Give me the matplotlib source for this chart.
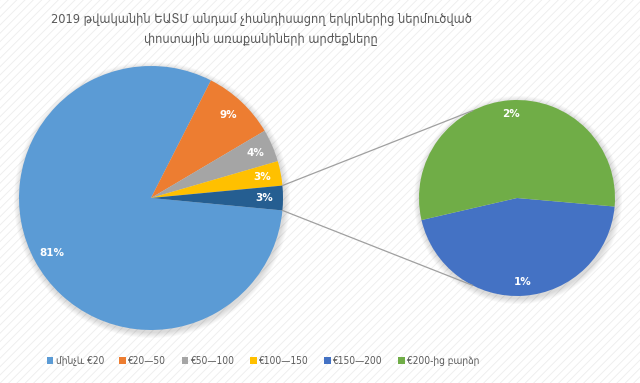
import matplotlib
matplotlib.use("Agg")
import numpy as np
import matplotlib.pyplot as plt
from matplotlib.patches import Rectangle, Circle

# data
categories = ["մինչև €20", "€20—50", "€50—100", "€100—150", "€150—200", "€200-ից բարձր"]
main_values = [81, 9, 4, 3]          # first four categories (percent)
other_values = [1.35, 1.65]          # €150—200, €200-ից բարձր (split into the small pie)
title = "2019 թվականին ԵԱՏՄ անդամ չհանդիսացող երկրներից ներմուծված\nփոստային առաքանիների արժեքները"

main_colors = ["#5B9BD5", "#ED7D31", "#A5A5A5", "#FFC000"]
other_color = "#255E91"
sec_colors = ["#4472C4", "#70AD47"]

plt.rcParams["font.family"] = ["DejaVu Sans"]
plt.rcParams["hatch.linewidth"] = 0.6

W, H = 640, 383
fig = plt.figure(figsize=(W / 100, H / 100), dpi=100)
fig.patch.set_facecolor("white")

# faint diagonal stripes in the background
fig.patches.append(Rectangle((0, 0), 1, 1, transform=fig.transFigure, facecolor="white",
                             edgecolor="#EDEDED", hatch="////", lw=0, zorder=-10))

ax = fig.add_axes([0, 0, 1, 1])

main_c, main_r = (151, 185), 132
sec_c, sec_r = (517, 185), 98

# soft shadows
for c, r in [(main_c, main_r), (sec_c, sec_r)]:
    for k in range(1, 7):
        ax.add_patch(Circle((c[0] + 1, c[1] - 2), r + k, color="#000000", alpha=0.025, lw=0, zorder=0))

fmt_label = lambda v: f"{v:.0f}%"
text_kw = dict(color="white", fontsize=7.5, fontweight="bold")

other_total = sum(other_values)
main_all = main_values + [other_total]
other_angle = other_total / sum(main_all) * 360
wedges_main, texts_main, auto_main = ax.pie(
    main_all, colors=main_colors + [other_color], center=main_c, radius=main_r,
    startangle=-other_angle / 2, counterclock=False,
    autopct=lambda p: fmt_label(p * sum(main_all) / 100), pctdistance=0.86,
    textprops=text_kw, wedgeprops=dict(lw=0), frame=True)

wedges_sec, texts_sec, auto_sec = ax.pie(
    other_values, colors=sec_colors, center=sec_c, radius=sec_r,
    startangle=-5, counterclock=False,
    autopct=lambda p: fmt_label(p * other_total / 100), pctdistance=0.86,
    textprops=text_kw, wedgeprops=dict(lw=0), frame=True)

ax.set_xlim(0, W)
ax.set_ylim(0, H)
ax.set_aspect("equal")
ax.axis("off")

# connector lines from the "other" slice to the small pie
ow = wedges_main[-1]
for th_main, th_sec in [(ow.theta2, 117), (ow.theta1, -117)]:
    x0 = main_c[0] + main_r * np.cos(np.radians(th_main))
    y0 = main_c[1] + main_r * np.sin(np.radians(th_main))
    x1 = sec_c[0] + sec_r * np.cos(np.radians(th_sec))
    y1 = sec_c[1] + sec_r * np.sin(np.radians(th_sec))
    ax.plot([x0, x1], [y0, y1], color="#A0A0A0", lw=0.9, zorder=1)

fig.text(261 / W, 1 - 29 / H, title, ha="center", va="center", fontsize=9.2,
         fontstretch="condensed", color="#595959", linespacing=1.7)

handles = list(wedges_main[:4]) + list(wedges_sec)
leg = fig.legend(handles, categories, loc="center", bbox_to_anchor=(263 / W, 22 / H),
                 ncol=6, frameon=False, handlelength=0.65, handleheight=0.65,
                 prop=dict(size=7.3, stretch="condensed"),
                 handletextpad=0.25, columnspacing=1.5, labelcolor="#595959")

fig.savefig("out.png", dpi=100, facecolor=fig.get_facecolor())
